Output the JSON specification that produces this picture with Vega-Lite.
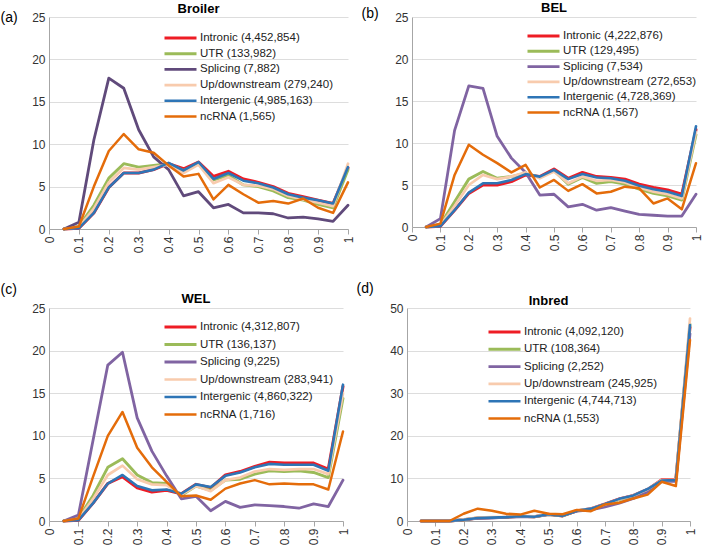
{
  "$schema": "https://vega.github.io/schema/vega-lite/v6.json",
  "padding": {"left": 0, "top": 1, "right": 0, "bottom": 0},
  "background": "white",
  "config": {
    "view": {"stroke": null},
    "font": "Liberation Sans",
    "title": {"font": "Liberation Sans", "fontSize": 13, "fontWeight": "bold", "color": "#000", "offset": 4, "frame": "group"},
    "axis": {"labelFont": "Liberation Sans", "labelFontSize": 12, "labelColor": "#333", "domainColor": "#A6A6A6", "tickColor": "#A6A6A6", "gridColor": "#DDDDDD", "titleFont": "Liberation Sans", "titleFontSize": 14, "titleFontWeight": "normal", "titleColor": "#000"},
    "axisX": {"grid": false, "labelAngle": -90, "tickSize": 5, "labelPadding": 2, "values": [0, 0.1, 0.2, 0.3, 0.4, 0.5, 0.6, 0.7, 0.8, 0.9, 1], "format": ".1~f", "title": null},
    "axisY": {"grid": true, "ticks": false, "labelPadding": 4, "titleAngle": 0, "titleAlign": "left", "titleBaseline": "middle", "titleAnchor": "end"},
    "legend": {"orient": "none", "symbolType": "stroke", "symbolSize": 1024, "symbolStrokeWidth": 3, "labelFont": "Liberation Sans", "labelFontSize": 11.5, "labelColor": "#222", "labelOffset": 2, "clipHeight": 12, "padding": 0},
    "line": {"strokeJoin": "round", "strokeCap": "round"}
  },
  "datasets": {
    "broiler": [
      {"x": 0.05, "Intronic": 0, "UTR": 0, "Splicing": 0, "Up/downstream": 0, "Intergenic": 0, "ncRNA": 0},
      {"x": 0.1, "Intronic": 0.1, "UTR": 0.3, "Splicing": 0.8, "Up/downstream": 0.2, "Intergenic": 0.1, "ncRNA": 0.3},
      {"x": 0.15, "Intronic": 1.9, "UTR": 2.8, "Splicing": 10.5, "Up/downstream": 2.4, "Intergenic": 1.9, "ncRNA": 5.0},
      {"x": 0.2, "Intronic": 4.9, "UTR": 6.0, "Splicing": 17.8, "Up/downstream": 5.5, "Intergenic": 4.9, "ncRNA": 9.2},
      {"x": 0.25, "Intronic": 6.6, "UTR": 7.7, "Splicing": 16.6, "Up/downstream": 7.2, "Intergenic": 6.6, "ncRNA": 11.2},
      {"x": 0.3, "Intronic": 6.6, "UTR": 7.3, "Splicing": 11.7, "Up/downstream": 7.0, "Intergenic": 6.6, "ncRNA": 9.4},
      {"x": 0.35, "Intronic": 7.0, "UTR": 7.5, "Splicing": 8.5, "Up/downstream": 7.3, "Intergenic": 7.0, "ncRNA": 9.0},
      {"x": 0.4, "Intronic": 7.7, "UTR": 7.7, "Splicing": 7.0, "Up/downstream": 7.6, "Intergenic": 7.8, "ncRNA": 7.5},
      {"x": 0.45, "Intronic": 7.1, "UTR": 6.9, "Splicing": 3.9, "Up/downstream": 6.6, "Intergenic": 6.9, "ncRNA": 6.2},
      {"x": 0.5, "Intronic": 7.9, "UTR": 7.7, "Splicing": 4.4, "Up/downstream": 7.6, "Intergenic": 7.9, "ncRNA": 6.5},
      {"x": 0.55, "Intronic": 6.2, "UTR": 5.8, "Splicing": 2.5, "Up/downstream": 5.4, "Intergenic": 5.9, "ncRNA": 3.5},
      {"x": 0.6, "Intronic": 6.8, "UTR": 6.3, "Splicing": 2.9, "Up/downstream": 6.1, "Intergenic": 6.6, "ncRNA": 5.2},
      {"x": 0.65, "Intronic": 5.9, "UTR": 5.2, "Splicing": 1.9, "Up/downstream": 5.2, "Intergenic": 5.7, "ncRNA": 4.1},
      {"x": 0.7, "Intronic": 5.5, "UTR": 5.0, "Splicing": 1.9, "Up/downstream": 5.1, "Intergenic": 5.4, "ncRNA": 3.1},
      {"x": 0.75, "Intronic": 5.0, "UTR": 4.5, "Splicing": 1.8, "Up/downstream": 4.7, "Intergenic": 4.9, "ncRNA": 3.3},
      {"x": 0.8, "Intronic": 4.2, "UTR": 3.7, "Splicing": 1.3, "Up/downstream": 3.9, "Intergenic": 4.1, "ncRNA": 3.0},
      {"x": 0.85, "Intronic": 3.8, "UTR": 3.4, "Splicing": 1.4, "Up/downstream": 3.5, "Intergenic": 3.7, "ncRNA": 3.6},
      {"x": 0.9, "Intronic": 3.4, "UTR": 2.9, "Splicing": 1.2, "Up/downstream": 3.1, "Intergenic": 3.4, "ncRNA": 2.5},
      {"x": 0.95, "Intronic": 3.0, "UTR": 2.5, "Splicing": 0.9, "Up/downstream": 2.7, "Intergenic": 3.0, "ncRNA": 1.9},
      {"x": 1.0, "Intronic": 7.2, "UTR": 7.0, "Splicing": 2.8, "Up/downstream": 7.7, "Intergenic": 7.3, "ncRNA": 5.5}
    ],
    "bel": [
      {"x": 0.05, "Intronic": 0, "UTR": 0, "Splicing": 0, "Up/downstream": 0, "Intergenic": 0, "ncRNA": 0},
      {"x": 0.1, "Intronic": 0.1, "UTR": 0.3, "Splicing": 1.0, "Up/downstream": 0.2, "Intergenic": 0.1, "ncRNA": 0.4},
      {"x": 0.15, "Intronic": 2.0, "UTR": 3.0, "Splicing": 11.5, "Up/downstream": 2.5, "Intergenic": 2.0, "ncRNA": 6.2},
      {"x": 0.2, "Intronic": 4.0, "UTR": 5.7, "Splicing": 16.8, "Up/downstream": 5.0, "Intergenic": 4.1, "ncRNA": 9.8},
      {"x": 0.25, "Intronic": 5.0, "UTR": 6.6, "Splicing": 16.5, "Up/downstream": 6.2, "Intergenic": 5.2, "ncRNA": 8.6},
      {"x": 0.3, "Intronic": 5.0, "UTR": 5.8, "Splicing": 10.8, "Up/downstream": 5.7, "Intergenic": 5.2, "ncRNA": 7.6},
      {"x": 0.35, "Intronic": 5.4, "UTR": 6.0, "Splicing": 8.2, "Up/downstream": 6.0, "Intergenic": 5.6, "ncRNA": 6.5},
      {"x": 0.4, "Intronic": 6.2, "UTR": 6.4, "Splicing": 6.5, "Up/downstream": 6.5, "Intergenic": 6.3, "ncRNA": 7.4},
      {"x": 0.45, "Intronic": 6.0, "UTR": 5.9, "Splicing": 3.8, "Up/downstream": 5.8, "Intergenic": 6.0, "ncRNA": 4.7},
      {"x": 0.5, "Intronic": 6.9, "UTR": 6.7, "Splicing": 3.9, "Up/downstream": 6.6, "Intergenic": 6.8, "ncRNA": 5.6},
      {"x": 0.55, "Intronic": 5.8, "UTR": 5.1, "Splicing": 2.4, "Up/downstream": 5.2, "Intergenic": 5.7, "ncRNA": 4.3},
      {"x": 0.6, "Intronic": 6.5, "UTR": 5.9, "Splicing": 2.7, "Up/downstream": 6.0, "Intergenic": 6.3, "ncRNA": 5.1},
      {"x": 0.65, "Intronic": 6.0, "UTR": 5.2, "Splicing": 2.0, "Up/downstream": 5.5, "Intergenic": 5.9, "ncRNA": 4.0},
      {"x": 0.7, "Intronic": 5.9, "UTR": 5.4, "Splicing": 2.3, "Up/downstream": 5.6, "Intergenic": 5.8, "ncRNA": 4.2},
      {"x": 0.75, "Intronic": 5.7, "UTR": 5.1, "Splicing": 1.9, "Up/downstream": 5.3, "Intergenic": 5.5, "ncRNA": 4.8},
      {"x": 0.8, "Intronic": 5.1, "UTR": 4.5, "Splicing": 1.5, "Up/downstream": 4.7, "Intergenic": 4.9, "ncRNA": 4.6},
      {"x": 0.85, "Intronic": 4.7, "UTR": 4.0, "Splicing": 1.4, "Up/downstream": 4.2, "Intergenic": 4.5, "ncRNA": 2.8},
      {"x": 0.9, "Intronic": 4.4, "UTR": 3.7, "Splicing": 1.3, "Up/downstream": 3.9, "Intergenic": 4.2, "ncRNA": 3.4},
      {"x": 0.95, "Intronic": 3.9, "UTR": 3.2, "Splicing": 1.3, "Up/downstream": 3.4, "Intergenic": 3.7, "ncRNA": 2.1},
      {"x": 1.0, "Intronic": 11.6, "UTR": 11.0, "Splicing": 3.9, "Up/downstream": 11.3, "Intergenic": 12.0, "ncRNA": 7.6}
    ],
    "wel": [
      {"x": 0.05, "Intronic": 0, "UTR": 0, "Splicing": 0, "Up/downstream": 0, "Intergenic": 0, "ncRNA": 0},
      {"x": 0.1, "Intronic": 0.1, "UTR": 0.3, "Splicing": 0.7, "Up/downstream": 0.2, "Intergenic": 0.1, "ncRNA": 0.3},
      {"x": 0.15, "Intronic": 2.1, "UTR": 3.0, "Splicing": 9.5, "Up/downstream": 2.6, "Intergenic": 2.1, "ncRNA": 5.2},
      {"x": 0.2, "Intronic": 4.4, "UTR": 6.3, "Splicing": 18.3, "Up/downstream": 5.4, "Intergenic": 4.4, "ncRNA": 10.0},
      {"x": 0.25, "Intronic": 5.2, "UTR": 7.3, "Splicing": 19.8, "Up/downstream": 6.5, "Intergenic": 5.4, "ncRNA": 12.8},
      {"x": 0.3, "Intronic": 3.9, "UTR": 5.4, "Splicing": 12.1, "Up/downstream": 4.9, "Intergenic": 4.1, "ncRNA": 8.6},
      {"x": 0.35, "Intronic": 3.4, "UTR": 4.5, "Splicing": 8.2, "Up/downstream": 4.3, "Intergenic": 3.6, "ncRNA": 6.3},
      {"x": 0.4, "Intronic": 3.6, "UTR": 4.4, "Splicing": 5.3, "Up/downstream": 4.2, "Intergenic": 3.7, "ncRNA": 4.6},
      {"x": 0.45, "Intronic": 3.2, "UTR": 3.0, "Splicing": 2.6, "Up/downstream": 3.1, "Intergenic": 3.2, "ncRNA": 2.9},
      {"x": 0.5, "Intronic": 4.3, "UTR": 4.1, "Splicing": 2.9, "Up/downstream": 4.1, "Intergenic": 4.3, "ncRNA": 3.0},
      {"x": 0.55, "Intronic": 3.9, "UTR": 3.6, "Splicing": 1.2, "Up/downstream": 3.5, "Intergenic": 4.0, "ncRNA": 2.5},
      {"x": 0.6, "Intronic": 5.4, "UTR": 4.8, "Splicing": 2.3, "Up/downstream": 4.8, "Intergenic": 5.3, "ncRNA": 3.8},
      {"x": 0.65, "Intronic": 5.8, "UTR": 4.9, "Splicing": 1.6, "Up/downstream": 5.1, "Intergenic": 5.7, "ncRNA": 4.4},
      {"x": 0.7, "Intronic": 6.4, "UTR": 5.5, "Splicing": 1.9, "Up/downstream": 5.8, "Intergenic": 6.3, "ncRNA": 4.8},
      {"x": 0.75, "Intronic": 6.9, "UTR": 5.9, "Splicing": 1.8, "Up/downstream": 6.1, "Intergenic": 6.7, "ncRNA": 4.3},
      {"x": 0.8, "Intronic": 6.8, "UTR": 5.8, "Splicing": 1.7, "Up/downstream": 6.0, "Intergenic": 6.6, "ncRNA": 4.4},
      {"x": 0.85, "Intronic": 6.8, "UTR": 5.9, "Splicing": 1.5, "Up/downstream": 6.1, "Intergenic": 6.6, "ncRNA": 4.3},
      {"x": 0.9, "Intronic": 6.8, "UTR": 5.7, "Splicing": 2.0, "Up/downstream": 6.1, "Intergenic": 6.6, "ncRNA": 4.3},
      {"x": 0.95, "Intronic": 6.1, "UTR": 5.1, "Splicing": 1.7, "Up/downstream": 5.5, "Intergenic": 5.9, "ncRNA": 3.7},
      {"x": 1.0, "Intronic": 15.8, "UTR": 14.4, "Splicing": 4.8, "Up/downstream": 15.0, "Intergenic": 16.0, "ncRNA": 10.5}
    ],
    "inbred": [
      {"x": 0.05, "Intronic": 0, "UTR": 0, "Splicing": 0, "Up/downstream": 0, "Intergenic": 0, "ncRNA": 0},
      {"x": 0.1, "Intronic": 0, "UTR": 0, "Splicing": 0, "Up/downstream": 0, "Intergenic": 0, "ncRNA": 0},
      {"x": 0.15, "Intronic": 0, "UTR": 0, "Splicing": 0, "Up/downstream": 0, "Intergenic": 0, "ncRNA": 0},
      {"x": 0.2, "Intronic": 0.3, "UTR": 0.3, "Splicing": 0.3, "Up/downstream": 0.4, "Intergenic": 0.3, "ncRNA": 1.7},
      {"x": 0.25, "Intronic": 0.7, "UTR": 0.7, "Splicing": 0.6, "Up/downstream": 0.8, "Intergenic": 0.7, "ncRNA": 2.9},
      {"x": 0.3, "Intronic": 0.8, "UTR": 0.8, "Splicing": 0.7, "Up/downstream": 0.9, "Intergenic": 0.8, "ncRNA": 2.4},
      {"x": 0.35, "Intronic": 0.9, "UTR": 0.9, "Splicing": 0.9, "Up/downstream": 1.0, "Intergenic": 0.9, "ncRNA": 1.7},
      {"x": 0.4, "Intronic": 1.1, "UTR": 1.1, "Splicing": 1.0, "Up/downstream": 1.2, "Intergenic": 1.1, "ncRNA": 1.5},
      {"x": 0.45, "Intronic": 1.0, "UTR": 1.0, "Splicing": 1.0, "Up/downstream": 1.1, "Intergenic": 1.0, "ncRNA": 2.4},
      {"x": 0.5, "Intronic": 1.6, "UTR": 1.5, "Splicing": 1.5, "Up/downstream": 1.6, "Intergenic": 1.6, "ncRNA": 1.7},
      {"x": 0.55, "Intronic": 1.2, "UTR": 1.2, "Splicing": 1.3, "Up/downstream": 1.3, "Intergenic": 1.2, "ncRNA": 1.6},
      {"x": 0.6, "Intronic": 2.4, "UTR": 2.4, "Splicing": 2.3, "Up/downstream": 2.5, "Intergenic": 2.4, "ncRNA": 2.6},
      {"x": 0.65, "Intronic": 2.9, "UTR": 2.8, "Splicing": 2.6, "Up/downstream": 2.9, "Intergenic": 2.9, "ncRNA": 2.3},
      {"x": 0.7, "Intronic": 4.0, "UTR": 3.8, "Splicing": 3.3, "Up/downstream": 3.9, "Intergenic": 4.0, "ncRNA": 3.9},
      {"x": 0.75, "Intronic": 5.2, "UTR": 5.0, "Splicing": 4.2, "Up/downstream": 5.1, "Intergenic": 5.2, "ncRNA": 4.3},
      {"x": 0.8, "Intronic": 6.0, "UTR": 5.9, "Splicing": 5.3, "Up/downstream": 6.0, "Intergenic": 6.0, "ncRNA": 5.3},
      {"x": 0.85, "Intronic": 7.4, "UTR": 7.3, "Splicing": 6.8, "Up/downstream": 7.4, "Intergenic": 7.5, "ncRNA": 6.2},
      {"x": 0.9, "Intronic": 9.7, "UTR": 9.5, "Splicing": 9.3, "Up/downstream": 9.6, "Intergenic": 9.5, "ncRNA": 9.2},
      {"x": 0.95, "Intronic": 9.8, "UTR": 9.6, "Splicing": 9.3, "Up/downstream": 9.7, "Intergenic": 9.6, "ncRNA": 8.2},
      {"x": 1.0, "Intronic": 45.5, "UTR": 46.2, "Splicing": 44.0, "Up/downstream": 47.5, "Intergenic": 46.0, "ncRNA": 42.5}
    ]
  },
  "spacing": 28,
  "resolve": {"scale": {"color": "independent", "strokeWidth": "independent", "y": "independent", "x": "independent"}, "legend": {"color": "independent"}},
  "vconcat": [
    {
      "spacing": 7,
      "resolve": {"scale": {"color": "independent", "strokeWidth": "independent", "y": "independent", "x": "independent"}, "legend": {"color": "independent"}},
      "hconcat": [
        {
          "title": {"text": "Broiler", "frame": "group", "offset": -5.5},
          "width": 299, "height": 212,
          "data": {"name": "broiler"},
          "transform": [{"fold": ["Intronic", "UTR", "Splicing", "Up/downstream", "Intergenic", "ncRNA"], "as": ["series", "value"]}],
          "mark": {"type": "line"},
          "encoding": {
            "x": {"field": "x", "type": "quantitative", "scale": {"domain": [0, 1], "nice": false}},
            "y": {"field": "value", "type": "quantitative", "scale": {"domain": [0, 25], "nice": false}, "axis": {"values": [0, 5, 10, 15, 20, 25], "title": "(a)", "titleX": -49, "titleY": 0}},
            "color": {"field": "series", "type": "nominal", "sort": null,
              "scale": {"domain": ["Intronic", "UTR", "Splicing", "Up/downstream", "Intergenic", "ncRNA"], "range": ["#EE1C25", "#9BBB59", "#604A7B", "#F8CBAD", "#2E75B6", "#E46C0A"]},
              "legend": {"title": null, "legendX": 114, "legendY": 15, "rowPadding": 3.7,
                "labelExpr": "datum.label == 'Intronic' ? 'Intronic (4,452,854)' : datum.label == 'UTR' ? 'UTR (133,982)' : datum.label == 'Splicing' ? 'Splicing (7,882)' : datum.label == 'Up/downstream' ? 'Up/downstream (279,240)' : datum.label == 'Intergenic' ? 'Intergenic (4,985,163)' : 'ncRNA (1,565)'",
                "encode": {"symbols": {"update": {"strokeWidth": {"signal": "datum.index == 0 ? 4 : 3"}}}}}},
            "strokeWidth": {"field": "series", "type": "nominal", "scale": {"domain": ["Intronic", "UTR", "Splicing", "Up/downstream", "Intergenic", "ncRNA"], "range": [3, 2.5, 2.5, 3, 3, 2.5]}, "legend": null}
          }
        },
        {
          "title": {"text": "BEL", "frame": "group", "offset": -8.5},
          "width": 284, "height": 210,
          "data": {"name": "bel"},
          "transform": [{"fold": ["Intronic", "UTR", "Splicing", "Up/downstream", "Intergenic", "ncRNA"], "as": ["series", "value"]}],
          "mark": {"type": "line"},
          "encoding": {
            "x": {"field": "x", "type": "quantitative", "scale": {"domain": [0, 1], "nice": false}},
            "y": {"field": "value", "type": "quantitative", "scale": {"domain": [0, 25], "nice": false}, "axis": {"values": [0, 5, 10, 15, 20, 25], "title": "(b)", "titleX": -51, "titleY": -4}},
            "color": {"field": "series", "type": "nominal", "sort": null,
              "scale": {"domain": ["Intronic", "UTR", "Splicing", "Up/downstream", "Intergenic", "ncRNA"], "range": ["#EE1C25", "#9BBB59", "#8064A2", "#F8CBAD", "#2E75B6", "#E46C0A"]},
              "legend": {"title": null, "legendX": 114, "legendY": 13, "rowPadding": 3.3,
                "labelExpr": "datum.label == 'Intronic' ? 'Intronic (4,222,876)' : datum.label == 'UTR' ? 'UTR (129,495)' : datum.label == 'Splicing' ? 'Splicing (7,534)' : datum.label == 'Up/downstream' ? 'Up/downstream (272,653)' : datum.label == 'Intergenic' ? 'Intergenic (4,728,369)' : 'ncRNA (1,567)'",
                "encode": {"symbols": {"update": {"strokeWidth": {"signal": "datum.index == 0 ? 4 : 3"}}}}}},
            "strokeWidth": {"field": "series", "type": "nominal", "scale": {"domain": ["Intronic", "UTR", "Splicing", "Up/downstream", "Intergenic", "ncRNA"], "range": [3, 2.5, 2.5, 3, 3, 2.5]}, "legend": null}
          }
        }
      ]
    },
    {
      "spacing": 7,
      "resolve": {"scale": {"color": "independent", "strokeWidth": "independent", "y": "independent", "x": "independent"}, "legend": {"color": "independent"}},
      "hconcat": [
        {
          "title": {"text": "WEL", "frame": "group", "offset": -23.5},
          "width": 294, "height": 213,
          "data": {"name": "wel"},
          "transform": [{"fold": ["Intronic", "UTR", "Splicing", "Up/downstream", "Intergenic", "ncRNA"], "as": ["series", "value"]}],
          "mark": {"type": "line"},
          "encoding": {
            "x": {"field": "x", "type": "quantitative", "scale": {"domain": [0, 1], "nice": false}},
            "y": {"field": "value", "type": "quantitative", "scale": {"domain": [0, 25], "nice": false}, "axis": {"values": [0, 5, 10, 15, 20, 25], "title": "(c)", "titleX": -49, "titleY": -19}},
            "color": {"field": "series", "type": "nominal", "sort": null,
              "scale": {"domain": ["Intronic", "UTR", "Splicing", "Up/downstream", "Intergenic", "ncRNA"], "range": ["#EE1C25", "#9BBB59", "#8064A2", "#F8CBAD", "#2E75B6", "#E46C0A"]},
              "legend": {"title": null, "legendX": 114, "legendY": 13, "rowPadding": 5.5,
                "labelExpr": "datum.label == 'Intronic' ? 'Intronic (4,312,807)' : datum.label == 'UTR' ? 'UTR (136,137)' : datum.label == 'Splicing' ? 'Splicing (9,225)' : datum.label == 'Up/downstream' ? 'Up/downstream (283,941)' : datum.label == 'Intergenic' ? 'Intergenic (4,860,322)' : 'ncRNA (1,716)'",
                "encode": {"symbols": {"update": {"strokeWidth": {"signal": "datum.index == 0 ? 4 : 3"}}}}}},
            "strokeWidth": {"field": "series", "type": "nominal", "scale": {"domain": ["Intronic", "UTR", "Splicing", "Up/downstream", "Intergenic", "ncRNA"], "range": [3, 2.5, 2.5, 3, 3, 2.5]}, "legend": null}
          }
        },
        {
          "title": {"text": "Inbred", "frame": "group", "offset": -26.5},
          "width": 283, "height": 213,
          "data": {"name": "inbred"},
          "transform": [{"fold": ["Intronic", "UTR", "Splicing", "Up/downstream", "Intergenic", "ncRNA"], "as": ["series", "value"]}],
          "mark": {"type": "line"},
          "encoding": {
            "x": {"field": "x", "type": "quantitative", "scale": {"domain": [0, 1], "nice": false}},
            "y": {"field": "value", "type": "quantitative", "scale": {"domain": [0, 50], "nice": false}, "axis": {"values": [0, 10, 20, 30, 40, 50], "title": "(d)", "titleX": -51, "titleY": -20}},
            "color": {"field": "series", "type": "nominal", "sort": null,
              "scale": {"domain": ["Intronic", "UTR", "Splicing", "Up/downstream", "Intergenic", "ncRNA"], "range": ["#EE1C25", "#9BBB59", "#8064A2", "#F8CBAD", "#2E75B6", "#E46C0A"]},
              "legend": {"title": null, "legendX": 80, "legendY": 18, "rowPadding": 5.3,
                "labelExpr": "datum.label == 'Intronic' ? 'Intronic (4,092,120)' : datum.label == 'UTR' ? 'UTR (108,364)' : datum.label == 'Splicing' ? 'Splicing (2,252)' : datum.label == 'Up/downstream' ? 'Up/downstream (245,925)' : datum.label == 'Intergenic' ? 'Intergenic (4,744,713)' : 'ncRNA (1,553)'",
                "encode": {"symbols": {"update": {"strokeWidth": {"signal": "datum.index == 4 ? 4 : 3"}}}}}},
            "strokeWidth": {"field": "series", "type": "nominal", "scale": {"domain": ["Intronic", "UTR", "Splicing", "Up/downstream", "Intergenic", "ncRNA"], "range": [3, 2.5, 2.5, 3, 4, 2.5]}, "legend": null}
          }
        }
      ]
    }
  ]
}
